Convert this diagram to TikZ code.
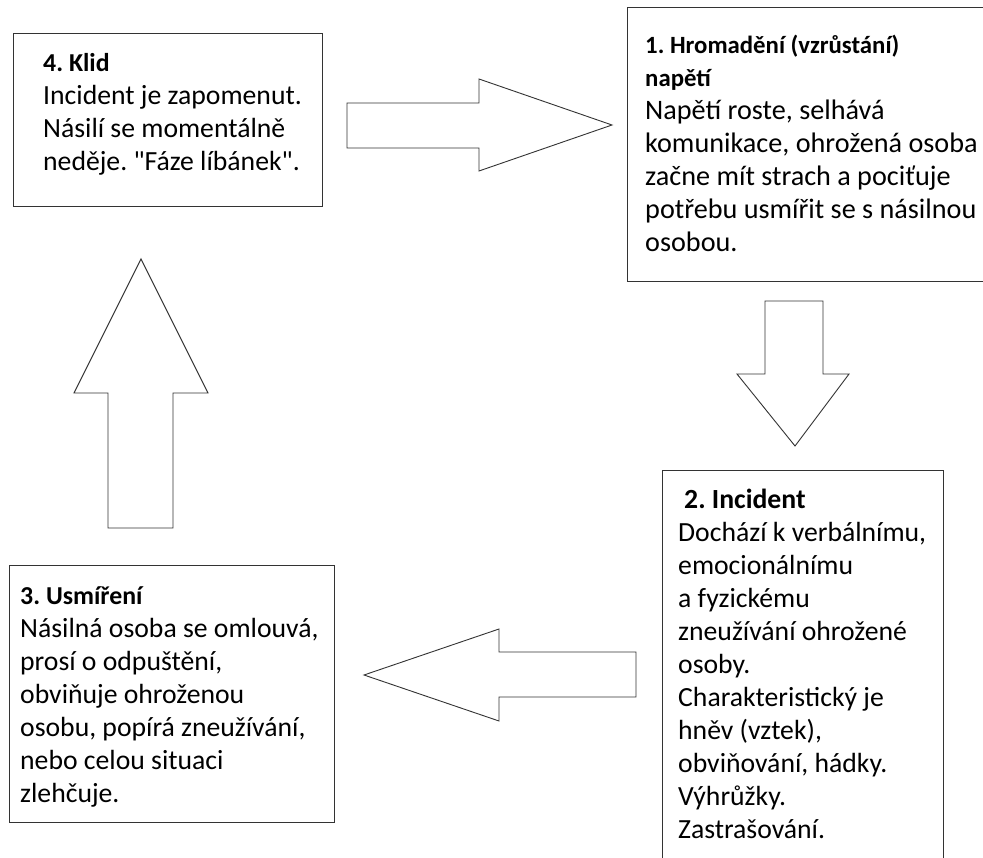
\documentclass[tikz,border=0pt]{standalone}
\usepackage{fontspec}
\setmainfont{Carlito}[Ligatures=TeXOff]
\frenchspacing
\newcommand{\ttl}[2]{{\fontsize{#1}{33pt}\selectfont\bfseries #2}}
\begin{document}
\begin{tikzpicture}[x=1pt,y=-1pt,
  box/.style={draw=black!80,line width=1.3pt,fill=white,inner sep=0pt,anchor=north west},
  txt/.style={inner sep=0pt,anchor=north west,align=left,font=\fontsize{27.7pt}{33pt}\selectfont},
  blockarrow/.style={draw=black!80,line width=0.9pt,fill=white,line join=miter}]
\clip (0,0) rectangle (983,858);
\fill[white] (0,0) rectangle (983,858);
% boxes
\node[box,minimum width=309pt,minimum height=173pt] (b4) at (13,33) {};
\node[box,minimum width=370pt,minimum height=274pt] (b1) at (627,7) {};
\node[box,minimum width=281pt,minimum height=420pt] (b2) at (662,470) {};
\node[box,minimum width=325pt,minimum height=257pt] (b3) at (9,565) {};
% texts
\node[txt] (t4) at (43,71-25) {\rule{0pt}{25pt}\ttl{25.8pt}{4. Klid}\\Incident je zapomenut.\\Násilí se momentálně\\neděje. "Fáze líbánek".};
\node[txt,font=\fontsize{28.2pt}{33pt}\selectfont] (t1) at (645,53-25) {\rule{0pt}{25pt}\ttl{24.8pt}{1. Hromadění (vzrůstání)}\\\ttl{24.8pt}{napětí}\\Napětí roste, selhává\\komunikace, ohrožená osoba\\začne mít strach a pociťuje\\potřebu usmířit se s násilnou\\osobou.};
\node[txt] (t2) at (678,508-25) {\rule{0pt}{25pt}\hspace*{6pt}\ttl{27.7pt}{2. Incident}\\Dochází k verbálnímu,\\emocionálnímu\\a fyzickému\\zneužívání ohrožené\\osoby.\\Charakteristický je\\hněv (vztek),\\obviňování, hádky.\\Výhrůžky.\\Zastrašování.};
\node[txt] (t3) at (20,604-25) {\rule{0pt}{25pt}\ttl{25.8pt}{3. Usmíření}\\Násilná osoba se omlouvá,\\prosí o odpuštění,\\obviňuje ohroženou\\osobu, popírá zneužívání,\\nebo celou situaci\\zlehčuje.};
% block arrows
\draw[blockarrow] (347,103) -- (479,103) -- (479,79) -- (612,125) -- (479,171) -- (479,148) -- (347,148) -- cycle;
\draw[blockarrow] (765,301) -- (823,301) -- (823,374) -- (849,374) -- (795,446) -- (737,374) -- (765,374) -- cycle;
\draw[blockarrow] (636,652) -- (499,652) -- (499,629) -- (364,675) -- (499,721) -- (499,697) -- (636,697) -- cycle;
\draw[blockarrow] (108,528) -- (108,393) -- (74,393) -- (141,259) -- (208,393) -- (173,393) -- (173,528) -- cycle;
\end{tikzpicture}
\end{document}
